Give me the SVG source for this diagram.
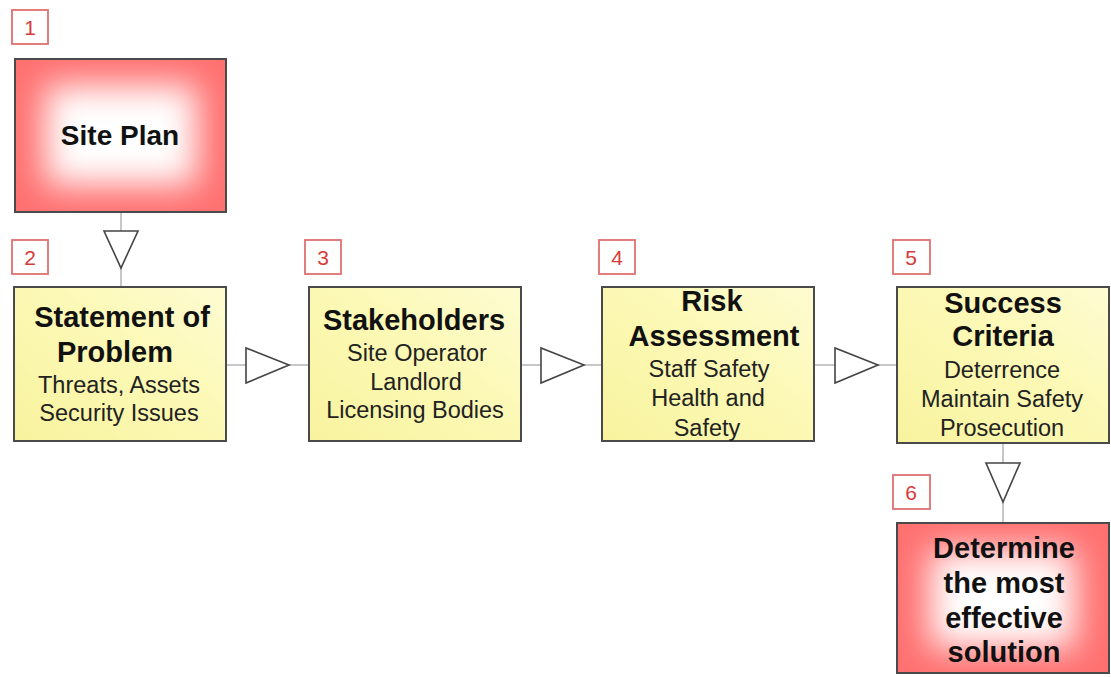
<svg xmlns="http://www.w3.org/2000/svg" width="1111" height="677" viewBox="0 0 1111 677">
<defs>
<filter id="blur" x="-50%" y="-50%" width="200%" height="200%"><feGaussianBlur stdDeviation="17"/></filter>
<linearGradient id="yel" x1="0" y1="1" x2="1" y2="0">
<stop offset="0" stop-color="#f8f39e"/><stop offset="0.6" stop-color="#fcf9b8"/><stop offset="1" stop-color="#fefbd2"/>
</linearGradient>
<clipPath id="c1"><rect x="15" y="59" width="211" height="153"/></clipPath>
<clipPath id="c6"><rect x="897" y="523" width="212" height="150"/></clipPath>
<style>
.conn{stroke:#b4b4b4;stroke-width:1.5;fill:none}
.tri{fill:#fff;stroke:#444;stroke-width:1.6;stroke-linejoin:miter}
.box{stroke:#4a4a4a;stroke-width:2}
.ybox{fill:url(#yel)}
.num{fill:#fff;stroke:#e07070;stroke-width:1.8}
.numt{font-family:"Liberation Sans",Arial,sans-serif;font-size:21px;fill:#d83a3a;text-anchor:middle}
.t{font-family:"Liberation Sans",Arial,sans-serif;font-weight:bold;font-size:29px;fill:#111;text-anchor:middle}
.s{font-family:"Liberation Sans",Arial,sans-serif;font-size:23.5px;fill:#222;text-anchor:middle}
</style>
</defs>
<rect width="1111" height="677" fill="#fff"/>

<g id="connectors">
<line class="conn" x1="121" y1="212" x2="121" y2="287"/>
<polygon class="tri" points="104,231 138,231 121,268"/>
<line class="conn" x1="226" y1="365" x2="309" y2="365"/>
<polygon class="tri" points="246,348 246,383 289,365"/>
<line class="conn" x1="521" y1="365" x2="602" y2="365"/>
<polygon class="tri" points="541,348 541,383 584,365"/>
<line class="conn" x1="814" y1="365" x2="897" y2="365"/>
<polygon class="tri" points="835,348 835,383 878,365"/>
<line class="conn" x1="1003" y1="443" x2="1003" y2="523"/>
<polygon class="tri" points="986,463 1020,463 1003,502"/>
</g>

<g id="label1"><rect class="num" x="12" y="10" width="36" height="34"/><text class="numt" x="30" y="35">1</text></g>
<g id="label2"><rect class="num" x="12" y="240" width="36" height="34"/><text class="numt" x="30" y="265">2</text></g>
<g id="label3"><rect class="num" x="305" y="240" width="36" height="34"/><text class="numt" x="323" y="265">3</text></g>
<g id="label4"><rect class="num" x="599" y="240" width="36" height="34"/><text class="numt" x="617" y="265">4</text></g>
<g id="label5"><rect class="num" x="893" y="240" width="37" height="34"/><text class="numt" x="911" y="265">5</text></g>
<g id="label6"><rect class="num" x="893" y="475" width="37" height="34"/><text class="numt" x="911" y="500">6</text></g>

<g id="node1">
<rect x="15" y="59" width="211" height="153" fill="#ff7070"/>
<g clip-path="url(#c1)"><rect x="45" y="85" width="152" height="100" fill="#fff" filter="url(#blur)"/></g>
<rect class="box" x="15" y="59" width="211" height="153" fill="none"/>
<text class="t" x="120" y="145" style="font-size:28px">Site Plan</text>
</g>

<g id="node2">
<rect class="box ybox" x="14" y="287" width="212" height="154"/>
<text class="t" x="122" y="327">Statement of</text>
<text class="t" x="115" y="362">Problem</text>
<text class="s" x="119" y="393">Threats, Assets</text>
<text class="s" x="119" y="421">Security Issues</text>
</g>

<g id="node3">
<rect class="box ybox" x="309" y="287" width="212" height="154"/>
<text class="t" x="414" y="330">Stakeholders</text>
<text class="s" x="417" y="361">Site Operator</text>
<text class="s" x="416" y="390">Landlord</text>
<text class="s" x="415" y="418">Licensing Bodies</text>
</g>

<g id="node4">
<rect class="box ybox" x="602" y="287" width="212" height="154"/>
<text class="t" x="712" y="311">Risk</text>
<text class="t" x="714" y="346">Assessment</text>
<text class="s" x="709" y="377">Staff Safety</text>
<text class="s" x="708" y="406">Health and</text>
<text class="s" x="707" y="436">Safety</text>
</g>

<g id="node5">
<rect class="box ybox" x="897" y="287" width="212" height="156"/>
<text class="t" x="1003" y="313">Success</text>
<text class="t" x="1003" y="346">Criteria</text>
<text class="s" x="1002" y="378">Deterrence</text>
<text class="s" x="1002" y="407">Maintain Safety</text>
<text class="s" x="1002" y="436">Prosecution</text>
</g>

<g id="node6">
<rect x="897" y="523" width="212" height="150" fill="#ff7070"/>
<g clip-path="url(#c6)"><rect x="930" y="550" width="145" height="98" fill="#fff" filter="url(#blur)"/></g>
<rect class="box" x="897" y="523" width="212" height="150" fill="none"/>
<text class="t" x="1004" y="558">Determine</text>
<text class="t" x="1004" y="593">the most</text>
<text class="t" x="1004" y="628">effective</text>
<text class="t" x="1004" y="662">solution</text>
</g>
</svg>
